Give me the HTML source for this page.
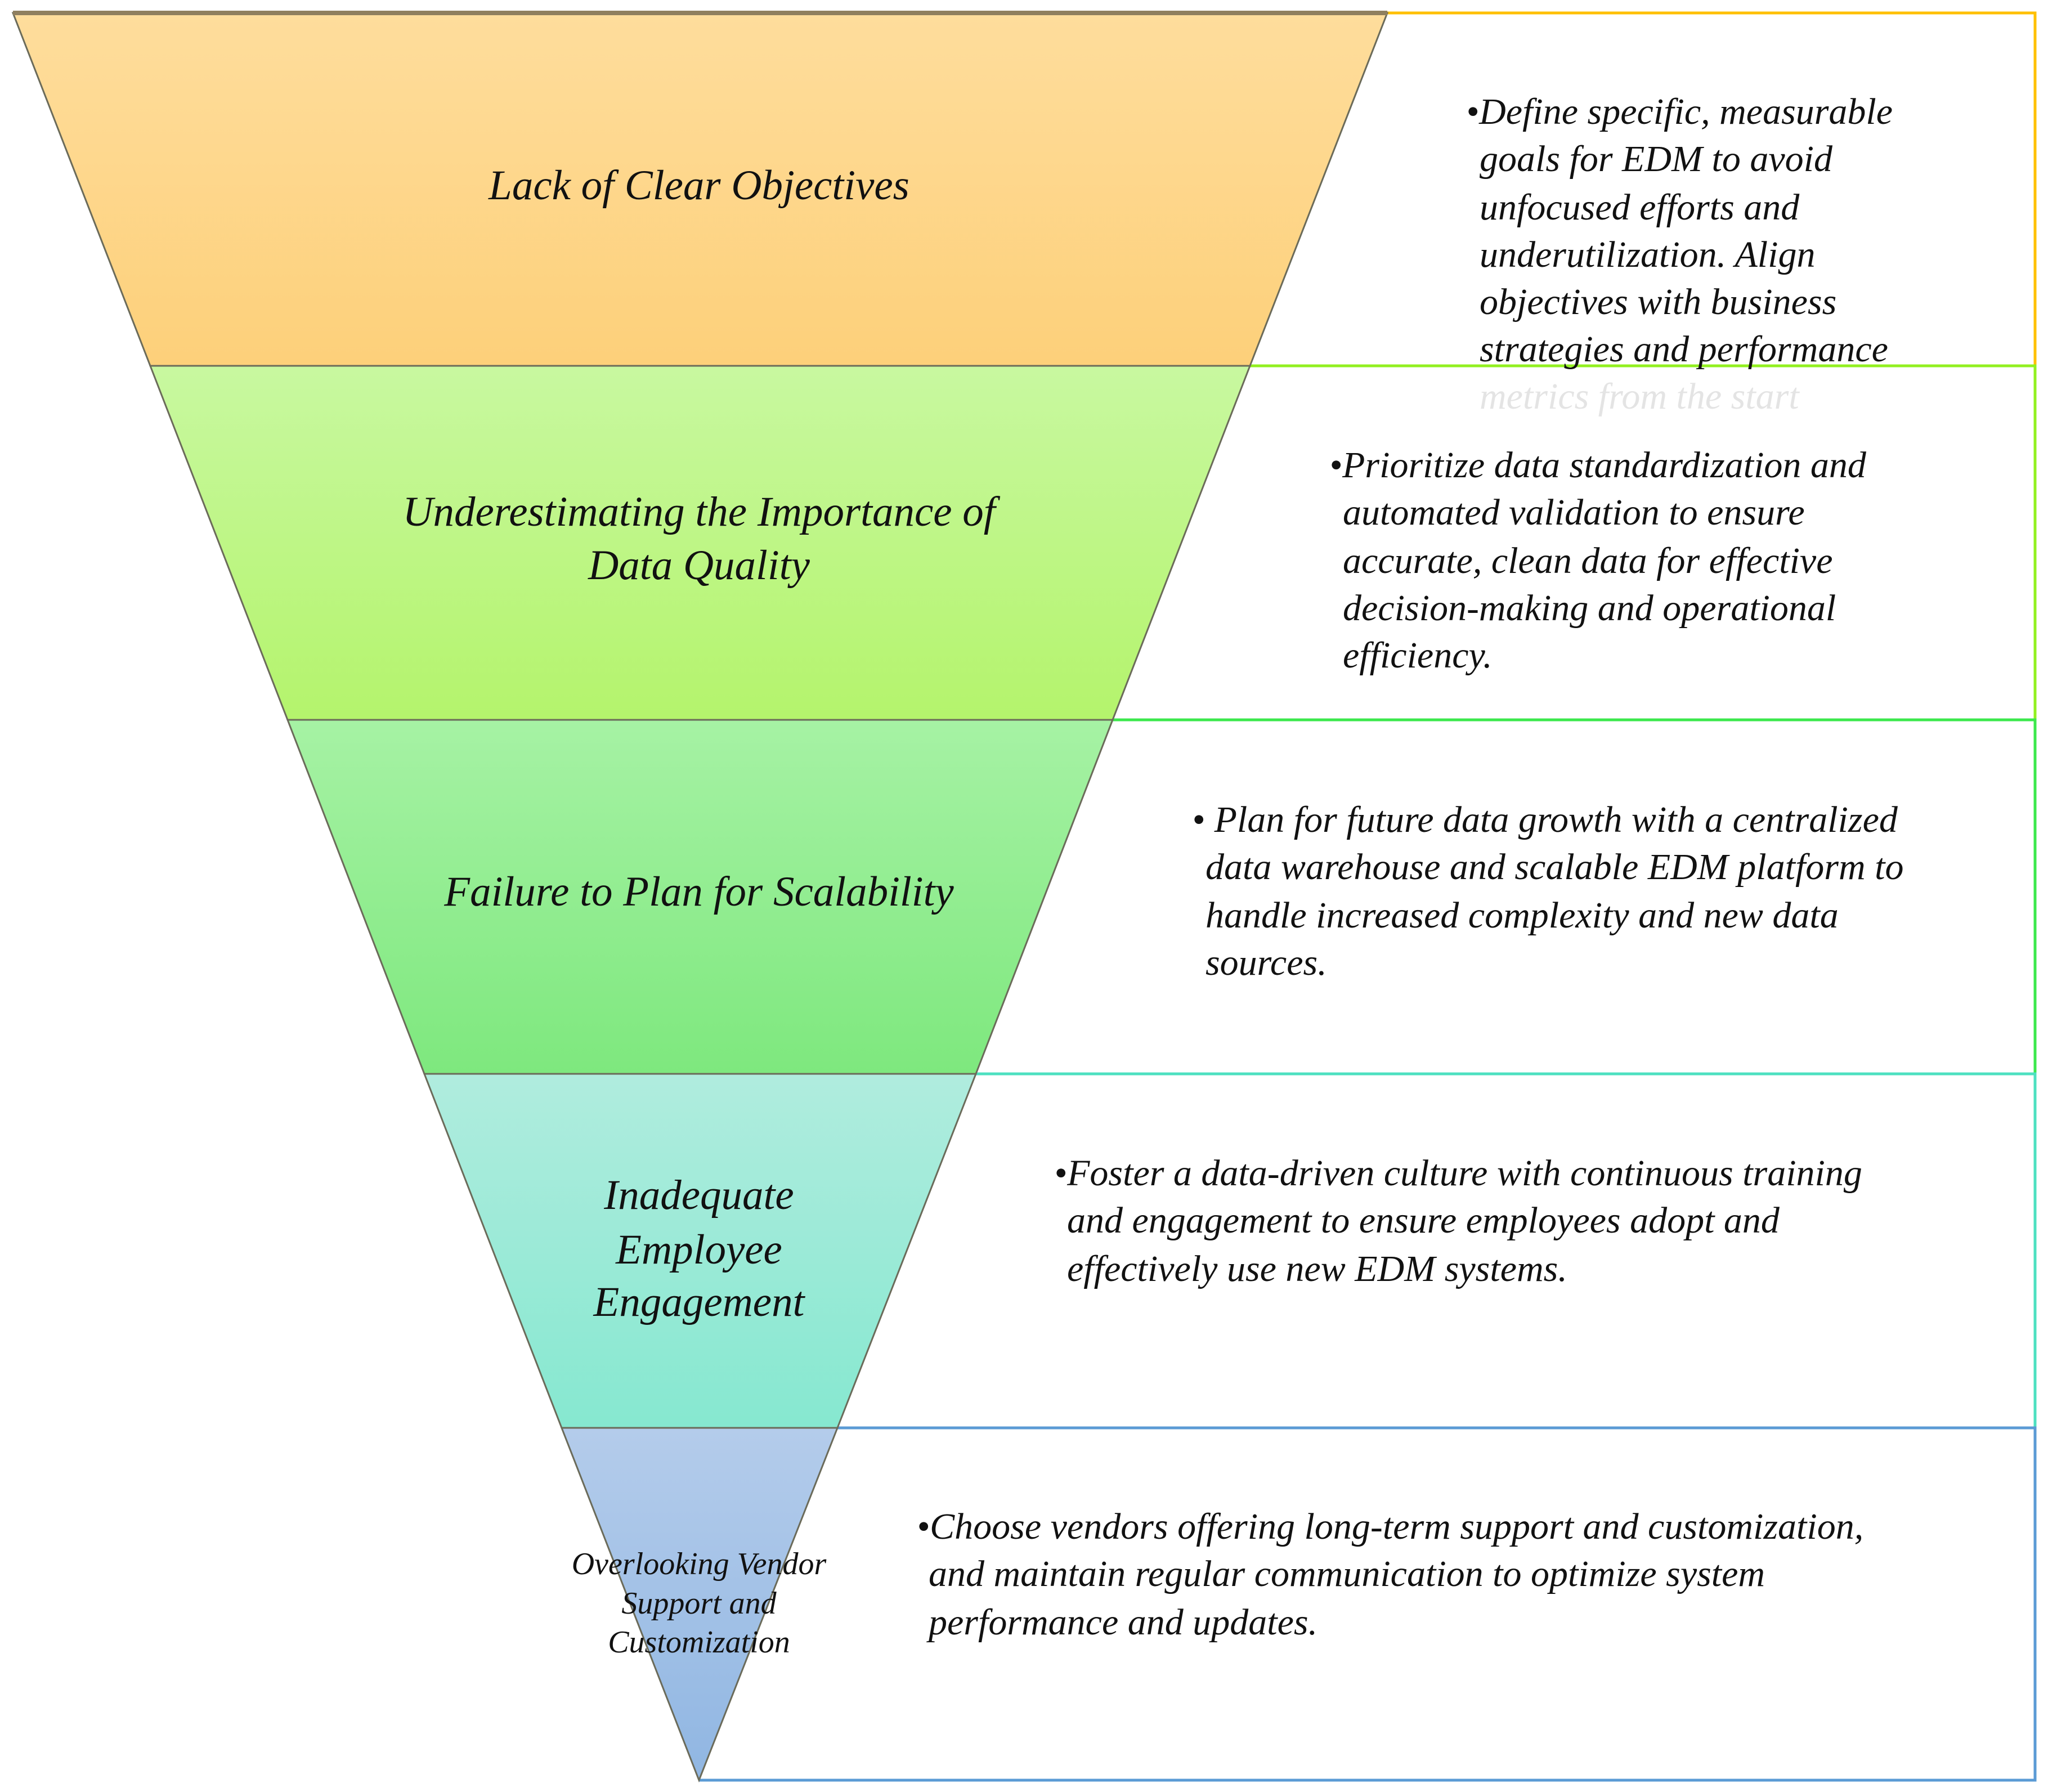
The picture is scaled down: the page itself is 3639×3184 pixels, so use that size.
<!DOCTYPE html>
<html><head><meta charset="utf-8"><style>
html,body{margin:0;padding:0;background:#fff;}
svg{display:block;}
text{font-family:"Liberation Serif",serif;font-style:italic;fill:#111;}
</style></head><body>
<svg width="3639" height="3184" viewBox="0 0 3639 3184" xmlns="http://www.w3.org/2000/svg">
<defs>
<linearGradient id="g1" x1="0" y1="0" x2="0" y2="1"><stop offset="0" stop-color="#fedd9c"/><stop offset="1" stop-color="#fdd07a"/></linearGradient>
<linearGradient id="g2" x1="0" y1="0" x2="0" y2="1"><stop offset="0" stop-color="#c8f8a0"/><stop offset="1" stop-color="#b4f46c"/></linearGradient>
<linearGradient id="g3" x1="0" y1="0" x2="0" y2="1"><stop offset="0" stop-color="#a6f2a4"/><stop offset="1" stop-color="#7ee87e"/></linearGradient>
<linearGradient id="g4" x1="0" y1="0" x2="0" y2="1"><stop offset="0" stop-color="#b0ecde"/><stop offset="1" stop-color="#86e8d0"/></linearGradient>
<linearGradient id="g5" x1="0" y1="0" x2="0" y2="1"><stop offset="0" stop-color="#b4cceb"/><stop offset="1" stop-color="#90b6e2"/></linearGradient>
</defs>
<g fill="none" stroke-width="5">
<path d="M2465 23 H3616 V650" stroke="#ffc000"/>
<path d="M2221 650 H3616 V1279" stroke="#92f020"/>
<path d="M1977 1279 H3616 V1908" stroke="#3ce84c"/>
<path d="M1734 1908 H3616 V2537" stroke="#4de0c0"/>
<path d="M1488 2537 H3616 V3163 H1242" stroke="#5b9bd5"/>
</g>
<g stroke="#6b6b5a" stroke-width="3">
<polygon points="23,23 2465,23 2221,650 267,650" fill="url(#g1)"/>
<polygon points="267,650 2221,650 1977,1279 511,1279" fill="url(#g2)"/>
<polygon points="511,1279 1977,1279 1734,1908 754,1908" fill="url(#g3)"/>
<polygon points="754,1908 1734,1908 1488,2537 998,2537" fill="url(#g4)"/>
<polygon points="998,2537 1488,2537 1242,3163" fill="url(#g5)"/>
</g>
<line x1="23" y1="23" x2="2465" y2="23" stroke="#8f7f5f" stroke-width="8"/>
<g font-size="75" text-anchor="middle">
<text x="1242" y="354">Lack of Clear Objectives</text>
<text x="1242" y="934">Underestimating the Importance of</text>
<text x="1242" y="1029">Data Quality</text>
<text x="1242" y="1609">Failure to Plan for Scalability</text>
<text x="1242" y="2148">Inadequate</text>
<text x="1242" y="2245">Employee</text>
<text x="1242" y="2338">Engagement</text>
</g>
<g font-size="56" text-anchor="middle">
<text x="1242" y="2797">Overlooking Vendor</text>
<text x="1242" y="2867">Support and</text>
<text x="1242" y="2936">Customization</text>
</g>
<g font-size="66">
<text x="2605" y="220">•Define specific, measurable</text>
<text x="2629" y="304">goals for EDM to avoid</text>
<text x="2629" y="390">unfocused efforts and</text>
<text x="2629" y="474">underutilization. Align</text>
<text x="2629" y="558">objectives with business</text>
<text x="2629" y="642">strategies and performance</text>
<text x="2629" y="726" style="fill:#e4e4e4">metrics from the start</text>

<text x="2362" y="848">•Prioritize data standardization and</text>
<text x="2386" y="932">automated validation to ensure</text>
<text x="2386" y="1018">accurate, clean data for effective</text>
<text x="2386" y="1102">decision-making and operational</text>
<text x="2386" y="1186">efficiency.</text>

<text x="2118" y="1478">• Plan for future data growth with a centralized</text>
<text x="2142" y="1562">data warehouse and scalable EDM platform to</text>
<text x="2142" y="1648">handle increased complexity and new data</text>
<text x="2142" y="1732">sources.</text>

<text x="1873" y="2106">•Foster a data-driven culture with continuous training</text>
<text x="1896" y="2190">and engagement to ensure employees adopt and</text>
<text x="1896" y="2276">effectively use new EDM systems.</text>

<text x="1629" y="2734">•Choose vendors offering long-term support and customization,</text>
<text x="1650" y="2818">and maintain regular communication to optimize system</text>
<text x="1650" y="2904">performance and updates.</text>
</g>
</svg>
</body></html>
